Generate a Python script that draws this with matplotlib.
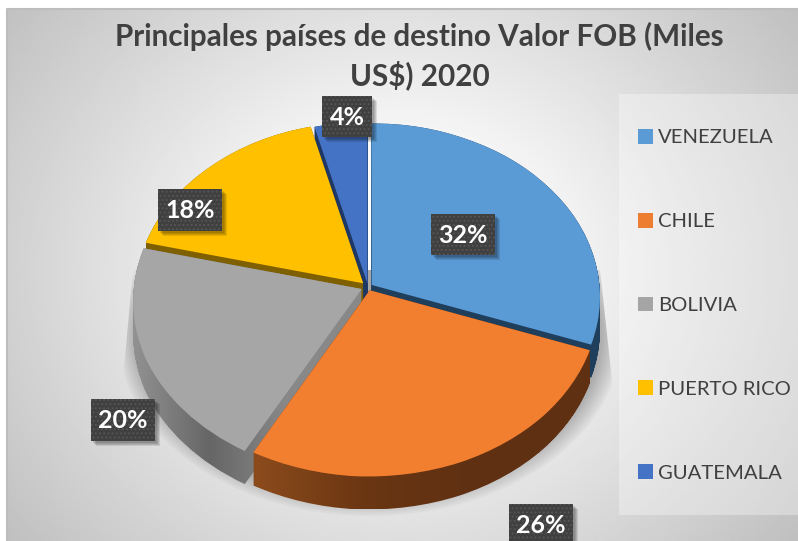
"""
principales paises de destino, fake 3d pie in excel style
"""
import matplotlib.pyplot as plt
import numpy as np
from matplotlib.colors import LinearSegmentedColormap
from matplotlib.patches import Ellipse, Polygon, Rectangle, Patch
from matplotlib.path import Path
from matplotlib.transforms import Affine2D, Transform

plt.rcParams['font.family'] = ['Lato', 'DejaVu Sans']
plt.rcParams['hatch.linewidth'] = 0.8

W, H = 798, 541

title = "Principales países de destino Valor FOB (Miles\nUS$) 2020"
countries = ['VENEZUELA', 'CHILE', 'BOLIVIA', 'PUERTO RICO', 'GUATEMALA']
percent = [32, 26, 20, 18, 4]
legend_colors = ['#5B9BD5', '#ED7D31', '#A5A5A5', '#FFC000', '#4472C4']
face_colors = ['#5A9AD5', '#F27E2F', '#A6A6A6', '#FFC000', '#4472C4']
side_colors = [['#1F3F5C', '#1F3F5C'],
               ['#8C4B1C', '#6A3612', '#5F3012', '#5F3012'],
               ['#929292', '#666666', '#888888', '#888888'],
               ['#7F6000', '#7F6000'],
               ['#1F3864', '#1F3864']]
explode = [0.02, 0.02, 0.03, 0.03, 0.02]
# back to front
draw_order = [4, 3, 0, 2, 1]
label_boxes = [(431, 214), (509, 504), (91, 399), (158, 189), (322, 96)]
label_sizes = [(64, 41), (64, 41), (64, 42), (64, 42), (50, 41)]

PIE_A, PIE_B = 228, 173
PIE_X, PIE_Y = 368, 287
PERSP = 0.069
DEPTH = 33 / PIE_B


class Persp(Transform):
    # excel's 3d view: near side bigger, slices a bit turned
    input_dims = 2
    output_dims = 2

    def transform_non_affine(self, xy):
        xy = np.asarray(xy)
        r = np.hypot(xy[:, 0], xy[:, 1])
        t = np.arctan2(xy[:, 0], xy[:, 1]) % (2 * np.pi)
        lim1, lim2 = np.radians(211), np.radians(346)
        bump = np.where(t < lim1, -5.5 * np.sin(t * np.pi / lim1), 0)
        bump = np.where((t >= lim1) & (t < lim2),
                        3 * np.sin((t - lim1) * np.pi / (lim2 - lim1)), bump)
        t = t + np.radians(bump)
        out = np.column_stack([r * np.sin(t), r * np.cos(t)])
        return out / (1 + PERSP * out[:, 1:2])


fig = plt.figure(figsize=(W / 100, H / 100), dpi=100, facecolor='white')

# background
bg = fig.add_axes([0, 0, 1, 1])
bg.set_xlim(0, W)
bg.set_ylim(H, 0)
bg.axis('off')
xx, yy = np.meshgrid(np.linspace(7, W, 400), np.linspace(9, H, 300))
dist = np.sqrt(((xx - 400) / 400) ** 2 + ((yy - 270) / 350) ** 2)
shade = np.clip(255 - (dist - 0.25) * 63, 185, 255)
bg.imshow(shade, cmap='gray', vmin=0, vmax=255, extent=(7, W, H, 9), aspect='auto', zorder=0)
bg.plot([7, 7, W], [H, 9, 9], color='#BDBDBD', lw=1.5, zorder=1)
bg.add_patch(Rectangle((619, 94), W - 619, 421, facecolor='white', alpha=0.32, lw=0, zorder=1))

# soft shadow under the pie
clip = Polygon([(133, 270), (122, 390), (122, 516), (612, 516), (612, 380), (600, 270)],
               transform=bg.transData)
for i in range(14):
    sh = Ellipse((370, 335), 2 * (252 - i * 2.2), 2 * (181 - i * 2.2),
                 facecolor='black', alpha=0.028, lw=0, zorder=2)
    bg.add_patch(sh)
    sh.set_clip_path(clip)

# pie
ax = fig.add_axes([0, 0, 1, 1])
ax.patch.set_visible(False)
wedges, _ = ax.pie(percent, colors=face_colors, explode=explode, startangle=90,
                   counterclock=False)
persp = Persp()
xlim = (-PIE_X / PIE_A, (W - PIE_X) / PIE_A)
ylim = ((PIE_Y - H) / PIE_B, PIE_Y / PIE_B)

for rank, i in enumerate(draw_order):
    w = wedges[i]
    w.set_transform(persp + ax.transData)
    w.set_zorder(10 + 2 * rank + 1)
    w.set_linewidth(0)
    layers = []
    for d in np.linspace(0, DEPTH, 34):
        tr = persp + Affine2D().translate(0, -d)
        layers.append(tr.transform_path(w.get_path()))
    side = Path.make_compound_path(*layers)
    box = side.get_extents()
    cm = LinearSegmentedColormap.from_list('side%d' % i, side_colors[i])
    im = ax.imshow(np.linspace(0, 1, 256)[None, :], cmap=cm, aspect='auto',
                   extent=(box.x0, box.x1, box.y0, box.y1), zorder=10 + 2 * rank)
    im.set_clip_path(side, ax.transData)

ax.set_aspect('auto')
ax.set_xlim(*xlim)
ax.set_ylim(*ylim)
ax.axis('off')

# title, labels, legend
top = fig.add_axes([0, 0, 1, 1])
top.patch.set_visible(False)
top.set_xlim(0, W)
top.set_ylim(H, 0)
top.axis('off')
top.text(419.5, 56, title, ha='center', va='center', fontsize=21.3, fontweight='bold',
         color='#404040', linespacing=1.36)

for v, (bx, by), (bw, bh) in zip(percent, label_boxes, label_sizes):
    for off in (2, 3, 4, 5):
        top.add_patch(Rectangle((bx + off, by + off), bw, bh, facecolor='black', alpha=0.1, lw=0))
    top.add_patch(Rectangle((bx, by), bw, bh, facecolor='#404040', edgecolor='#575757',
                            hatch='....', lw=0))
    top.text(bx + bw / 2, by + bh / 2 + 1, '%d%%' % v, ha='center', va='center', fontsize=18,
             fontweight='bold', color='white')

handles = [Patch(facecolor=c, lw=0) for c in legend_colors]
top.legend(handles, countries, loc='upper left', bbox_to_anchor=(638, 129),
           bbox_transform=top.transData, frameon=False, fontsize=14.6, labelcolor='#404040',
           handlelength=0.75, handleheight=0.75, handletextpad=0.22, labelspacing=3.27,
           borderpad=0, borderaxespad=0)

fig.savefig('out.png', dpi=100)
